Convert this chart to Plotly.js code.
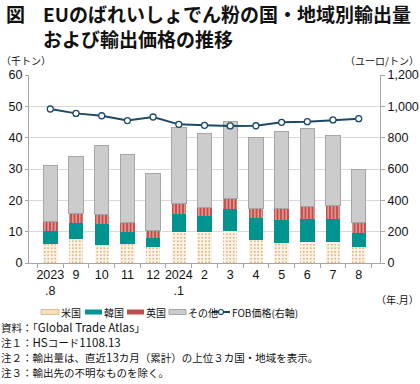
<!DOCTYPE html>
<html><head><meta charset="utf-8">
<script src="https://cdn.plot.ly/plotly-3.0.1.min.js"></script>
<style>html,body{margin:0;padding:0;background:#fff;}#chart{width:420px;height:384px;}</style>
</head><body><div id="chart"></div>
<script>
const categories = ['2023<br>.8','9','10','11','12','2024<br>.1','2','3','4','5','6','7','8'];
const usa   = [6.2, 7.6, 5.8, 6.2, 5.1, 10.0, 9.8, 10.2, 7.2, 6.3, 6.7, 6.8, 5.1];
const korea = [3.9, 5.2, 6.7, 3.7, 2.8, 5.5, 5.1, 7.1, 7.2, 7.5, 7.3, 7.2, 4.6];
const uk    = [3.3, 3.0, 3.0, 3.1, 2.6, 3.5, 2.7, 3.2, 3.0, 3.7, 3.9, 4.4, 3.3];
const other = [17.8, 18.3, 22.1, 21.6, 18.2, 24.3, 23.8, 24.8, 22.7, 24.6, 25.0, 22.4, 16.9];
const fob   = [983, 955, 940, 909, 932, 885, 879, 875, 876, 898, 902, 913, 921];
const seriesNames = ['米国','韓国','英国','その他','FOB価格(右軸)'];
const leftTicks = [0,10,20,30,40,50,60];
const rightTicks = [0,200,400,600,800,1000,1200];
const rightTickText = ['0','200','400','600','800','1,000','1,200'];

const W=420,H=384,L=29,R=40,T=75,B=121;
const pw=W-L-R, ph=H-T-B;
const px=x=>(x-L)/pw, py=y=>(H-B-y)/ph;
const jp='"Noto Sans CJK JP", "Liberation Sans", sans-serif';
const num='"Liberation Sans", Arial, sans-serif';
const cUSA='#fdf4e8', cUSAdot='#dca868', cKOR='#009490', cUK='#c0504d', cUKln='#e9a3a0', cOTH='#cccccc', cOTHln='#a6a6a6', cFOB='#1b4a68';

const common = {type:'bar', x:categories, yaxis:'y', showlegend:false};
const data = [
  Object.assign({}, common, {name:seriesNames[0], y:usa, marker:{color:cUSA, line:{width:0},
     pattern:{shape:'.', fgcolor:cUSAdot, bgcolor:cUSA, size:3.5, solidity:0.22, fillmode:'replace'}}}),
  Object.assign({}, common, {name:seriesNames[1], y:korea, marker:{color:cKOR, line:{width:0}}}),
  Object.assign({}, common, {name:seriesNames[2], y:uk, marker:{color:cUK, line:{width:0},
     pattern:{shape:'|', fgcolor:cUKln, bgcolor:cUK, size:3.5, solidity:0.4, fillmode:'replace'}}}),
  Object.assign({}, common, {name:seriesNames[3], y:other, marker:{color:cOTH, line:{width:1, color:cOTHln}}}),
  {type:'scatter', mode:'lines+markers', name:seriesNames[4], x:categories, y:fob, yaxis:'y2', showlegend:false,
   line:{color:cFOB, width:2}, marker:{symbol:'circle', size:6, color:'#ffffff', line:{color:cFOB, width:1.3}}}
];

const ann = (text,x,y,opts)=>Object.assign({text:text, x:px(x), y:py(y), xref:'paper', yref:'paper',
   showarrow:false, xanchor:'left', yanchor:'middle', borderpad:0, font:{family:jp, size:10.5, color:'#111'}}, opts||{});
const rect = (x0,x1,y0,y1,fill,line)=>({type:'rect', xref:'paper', yref:'paper', x0:px(x0), x1:px(x1), y0:py(y0), y1:py(y1),
   fillcolor:fill, line:{width:line?1:0, color:line||fill}});
const lat = s=>'<span style="font-size:11.5px">'+s+'</span>';

// manual legend (row at y ~ 312)
const LY=312;
const legShapes = [
  rect(41,59,LY-2.5,LY+2.5,'#f5dfbf','#e2bd8a'),
  rect(85,102,LY-2.5,LY+2.5,cKOR),
  rect(127,144,LY-2.5,LY+2.5,cUK),
  rect(169,186,LY-2.5,LY+2.5,cOTH,cOTHln),
  {type:'line', xref:'paper', yref:'paper', x0:px(212), x1:px(230), y0:py(LY), y1:py(LY), line:{color:cFOB, width:2}},
  {type:'circle', xref:'paper', yref:'paper', x0:px(218.5), x1:px(223.5), y0:py(LY-2.5), y1:py(LY+2.5), fillcolor:'#fff', line:{color:cFOB, width:1.2}}
];
const lf = {family:jp, size:10, color:'#111'};
const legAnn = [
  ann(seriesNames[0], 60, LY, {font:lf}),
  ann(seriesNames[1], 103, LY, {font:lf}),
  ann(seriesNames[2], 145, LY, {font:lf}),
  ann(seriesNames[3], 187, LY, {font:lf}),
  ann(seriesNames[4], 231, LY, {font:lf})
];

const layout = {
  width:W, height:H, margin:{l:L, r:R, t:T, b:B}, paper_bgcolor:'#fff', plot_bgcolor:'#fff',
  barmode:'stack', bargap:0.44, showlegend:false,
  font:{family:num, size:12.5, color:'#111'},
  xaxis:{type:'category', tickmode:'array', tickvals:categories, ticktext:categories, tickangle:0,
    tickson:'boundaries', ticks:'outside', ticklen:4, tickcolor:'#a6a6a6', showline:true, linecolor:'#a6a6a6',
    tickfont:{family:num, size:12.5, color:'#111'}, showgrid:false, automargin:false},
  yaxis:{range:[0,60], tickvals:leftTicks, showgrid:true, gridcolor:'#d9d9d9', gridwidth:1,
    showline:true, linecolor:'#a6a6a6', ticks:'outside', ticklen:3, tickcolor:'#a6a6a6',
    tickfont:{family:num, size:12.5, color:'#111'}, zeroline:false, automargin:false},
  yaxis2:{range:[0,1200], overlaying:'y', side:'right', tickvals:rightTicks, ticktext:rightTickText,
    showgrid:false, showline:true, linecolor:'#a6a6a6', ticks:'outside', ticklen:4, tickcolor:'#a6a6a6',
    tickfont:{family:num, size:12.5, color:'#111'}, zeroline:false, automargin:false},
  shapes: legShapes,
  annotations:[
    ann('<b>図</b>', 5, 14, {font:{family:jp, size:19, color:'#111'}}),
    ann('<b>EUのばれいしょでん粉の国・地域別輸出量</b><br><b>および輸出価格の推移</b>', 42, 26,
        {align:'left', font:{family:jp, size:19, color:'#111'}}),
    ann('（千トン）', 0, 61, {font:{family:jp, size:10, color:'#111'}}),
    ann('（ユーロ/トン）', 420, 61, {xanchor:'right', font:{family:jp, size:10, color:'#111'}}),
    ann('（年.月）', 420, 299, {xanchor:'right', font:{family:jp, size:10, color:'#111'}}),
    ann('資料：「'+lat('Global Trade Atlas')+'」', 0, 327),
    ann('注１：'+lat('HS')+'コード'+lat('1108.13'), 0, 342),
    ann('注２：輸出量は、直近'+lat('13')+'カ月（累計）の上位３カ国・地域を表示。', 0, 357),
    ann('注３：輸出先の不明なものを除く。', 0, 372)
  ].concat(legAnn)
};
Plotly.newPlot('chart', data, layout, {staticPlot:true, displayModeBar:false});
</script></body></html>
